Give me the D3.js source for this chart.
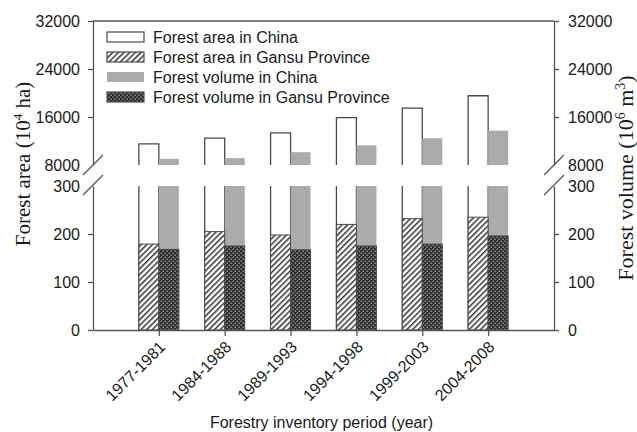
<!DOCTYPE html>
<html>
<head>
<meta charset="utf-8">
<script src="https://cdn.jsdelivr.net/npm/d3@7"></script>
<style>
  html, body { margin: 0; padding: 0; background: #fff; }
  svg { display: block; }
  text { font-family: "Liberation Sans", Arial, sans-serif; fill: #1a1a1a; }
  .serif { font-family: "Liberation Serif", "Times New Roman", serif; }
</style>
</head>
<body>
<svg id="chart" width="637" height="432"></svg>
<script>
// Forestry inventory periods
const periods = ["1977-1981", "1984-1988", "1989-1993", "1994-1998", "1999-2003", "2004-2008"];
// Forest area (10^4 ha)
const areaChina = [11528, 12465, 13370, 15894, 17491, 19545];
const areaGansu = [179, 205, 198, 220, 232, 235];
// Forest volume (10^6 m^3)
const volumeChina = [9028, 9141, 10137, 11267, 12456, 13721];
const volumeGansu = [168, 175, 167, 175, 179, 196];
// Axis ticks for the two segments of the broken axes
const upperTicks = [8000, 16000, 24000, 32000];
const lowerTicks = [0, 100, 200, 300];
const legendLabels = ["Forest area in China", "Forest area in Gansu Province",
                      "Forest volume in China", "Forest volume in Gansu Province"];

(function () {
const svg = d3.select("#chart");
const plotLeft = 93, plotRight = 554, plotTop = 21;
const breakUpper = 165, breakLower = 186, plotBottom = 330;
const barW = 20;
const axisColor = "#555";
const gray = "#ababab";
const outline = "#4a4a4a";

const x = d3.scalePoint().domain(periods).range([plotLeft, plotRight]).padding(1);
const yTop = d3.scaleLinear().domain([8000, 32000]).range([breakUpper, plotTop]);
const yBot = d3.scaleLinear().domain([0, 300]).range([plotBottom, breakLower]);

// Fill patterns
const defs = svg.append("defs");
const hatch = defs.append("pattern").attr("id", "hatch")
  .attr("patternUnits", "userSpaceOnUse").attr("width", 4).attr("height", 4)
  .attr("patternTransform", "rotate(45)");
hatch.append("rect").attr("width", 4).attr("height", 4).attr("fill", "#fff");
hatch.append("rect").attr("x", 0).attr("width", 1.5).attr("height", 4).attr("fill", "#333");

const check = defs.append("pattern").attr("id", "check")
  .attr("patternUnits", "userSpaceOnUse").attr("width", 4).attr("height", 4);
check.append("rect").attr("width", 4).attr("height", 4).attr("fill", "#2e2e2e");
check.append("rect").attr("x", 0.5).attr("y", 0.5).attr("width", 1.4).attr("height", 1.4).attr("fill", "#999");
check.append("rect").attr("x", 2.5).attr("y", 2.5).attr("width", 1.4).attr("height", 1.4).attr("fill", "#999");

const g = svg.append("g");

periods.forEach((p, i) => {
  const cx = x(p);
  const xa = cx - barW, xv = cx;

  // Forest area in China: open bar, upper segment
  const ya = yTop(areaChina[i]);
  g.append("path")
    .attr("d", `M${xa},${breakUpper}V${ya}H${xa + barW}V${breakUpper}`)
    .attr("fill", "#fff").attr("stroke", outline).attr("stroke-width", 1.3);
  // lower segment of the same bar (runs past the axis break)
  g.append("path")
    .attr("d", `M${xa},${breakLower}V${plotBottom}M${xa + barW},${breakLower}V${plotBottom}`)
    .attr("fill", "none").attr("stroke", outline).attr("stroke-width", 1.3);

  // Forest volume in China: gray bar, both segments
  g.append("rect").attr("x", xv).attr("width", barW)
    .attr("y", yTop(volumeChina[i])).attr("height", breakUpper - yTop(volumeChina[i]))
    .attr("fill", gray);
  g.append("rect").attr("x", xv).attr("width", barW)
    .attr("y", breakLower).attr("height", plotBottom - breakLower)
    .attr("fill", gray);

  // Gansu bars
  g.append("rect").attr("x", xa).attr("width", barW)
    .attr("y", yBot(areaGansu[i])).attr("height", plotBottom - yBot(areaGansu[i]))
    .attr("fill", "url(#hatch)").attr("stroke", outline).attr("stroke-width", 1);
  g.append("rect").attr("x", xv).attr("width", barW)
    .attr("y", yBot(volumeGansu[i])).attr("height", plotBottom - yBot(volumeGansu[i]))
    .attr("fill", "url(#check)").attr("stroke", outline).attr("stroke-width", 1);
});

// Axes
function styleAxis(sel) {
  sel.selectAll("path.domain").attr("stroke", axisColor).attr("stroke-width", 1.3);
  sel.selectAll(".tick line").attr("stroke", axisColor).attr("stroke-width", 1.3);
  sel.selectAll(".tick text").attr("font-size", 16).attr("fill", "#1a1a1a")
    .attr("font-family", "Liberation Sans, Arial, sans-serif");
  // no tick marks where the axis breaks
  sel.selectAll(".tick").filter(d => d === 8000 || d === 300).select("line").remove();
}

[[d3.axisLeft, plotLeft, 8], [d3.axisRight, plotRight, 9]].forEach(([axisFn, ax, pad]) => {
  svg.append("g").attr("transform", `translate(${ax},0)`)
    .call(axisFn(yTop).tickValues(upperTicks).tickFormat(d3.format("d"))
      .tickSize(5).tickSizeOuter(0).tickPadding(pad))
    .call(styleAxis);
  svg.append("g").attr("transform", `translate(${ax},0)`)
    .call(axisFn(yBot).tickValues(lowerTicks).tickFormat(d3.format("d"))
      .tickSize(5).tickSizeOuter(0).tickPadding(pad))
    .call(styleAxis);

  // break marks
  [breakUpper, breakLower - 1].forEach(yb => {
    svg.append("line")
      .attr("x1", ax - 10).attr("y1", yb + 10).attr("x2", ax + 10).attr("y2", yb - 10)
      .attr("stroke", axisColor).attr("stroke-width", 1.2);
  });
});

// top frame line
svg.append("line").attr("x1", plotLeft).attr("x2", plotRight).attr("y1", plotTop).attr("y2", plotTop)
  .attr("stroke", axisColor).attr("stroke-width", 1.3);

// x axis
const xAxis = svg.append("g").attr("transform", `translate(0,${plotBottom})`)
  .call(d3.axisBottom(x).tickSize(6).tickSizeOuter(0))
  .call(styleAxis);
xAxis.selectAll(".tick text")
  .attr("y", 0).attr("dy", null)
  .attr("text-anchor", "end")
  .attr("transform", "translate(7,18) rotate(-45)");

// Axis titles
svg.append("text").attr("x", (plotLeft + plotRight) / 2 - 2).attr("y", 428)
  .attr("text-anchor", "middle").attr("font-size", 16)
  .text("Forestry inventory period (year)");

const lt = svg.append("text").attr("class", "serif")
  .attr("transform", "translate(30,164) rotate(-90)")
  .attr("text-anchor", "middle").attr("font-size", 21);
lt.append("tspan").text("Forest area (10");
lt.append("tspan").attr("font-size", 13).attr("dy", -8).text("4");
lt.append("tspan").attr("dy", 8).text(" ha)");

const rt = svg.append("text").attr("class", "serif")
  .attr("transform", "translate(633,178) rotate(-90)")
  .attr("text-anchor", "middle").attr("font-size", 22);
rt.append("tspan").text("Forest volume (10");
rt.append("tspan").attr("font-size", 14).attr("dy", -8).text("6");
rt.append("tspan").attr("dy", 8).text(" m");
rt.append("tspan").attr("font-size", 14).attr("dy", -8).text("3");
rt.append("tspan").attr("dy", 8).text(")");

// Legend
const fills = ["#fff", "url(#hatch)", gray, "url(#check)"];
const strokes = [outline, outline, "none", outline];
const legend = svg.append("g");
legendLabels.forEach((lab, i) => {
  const cy = 37 + i * 20;
  legend.append("rect").attr("x", 107).attr("y", cy - 5).attr("width", 37).attr("height", 10)
    .attr("fill", fills[i]).attr("stroke", strokes[i]).attr("stroke-width", 1.2);
  legend.append("text").attr("x", 153).attr("y", cy + 6).attr("font-size", 16).text(lab);
});
})();
</script>
</body>
</html>
